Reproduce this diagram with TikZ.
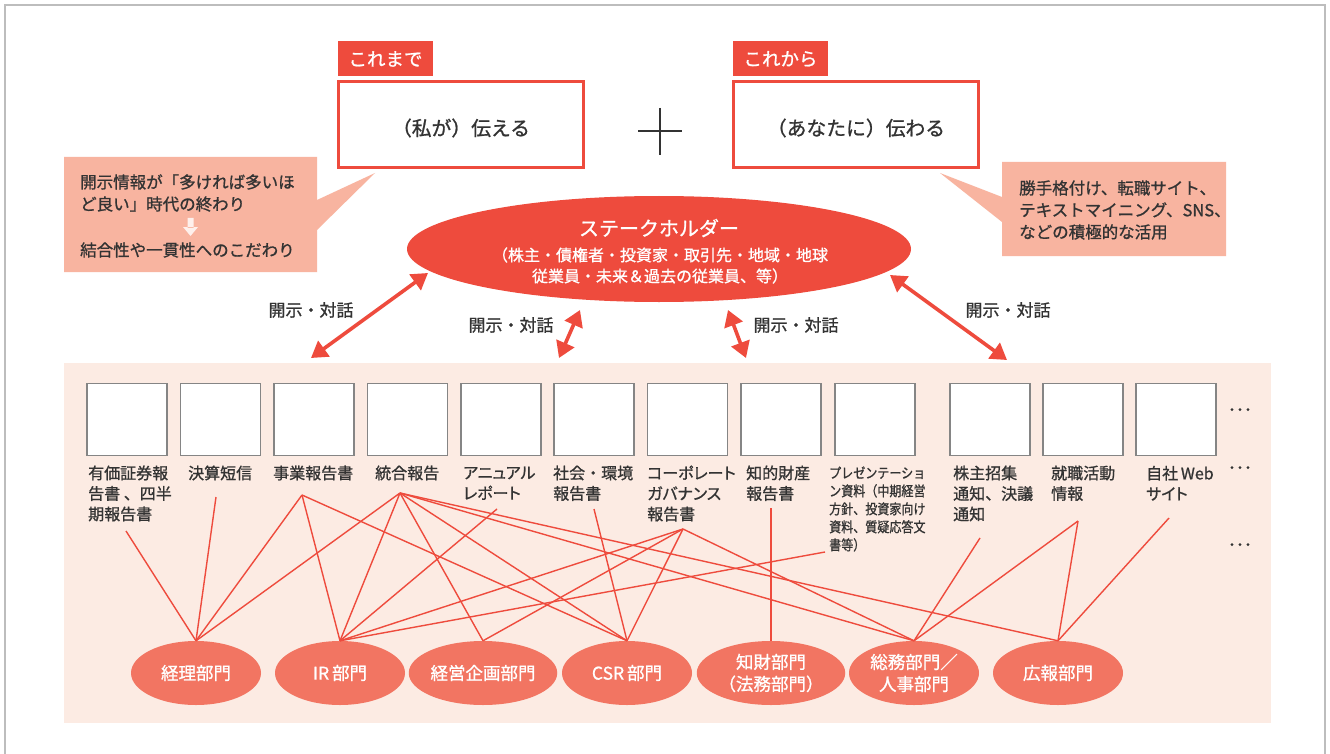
\documentclass[tikz,border=0pt]{standalone}
\usepackage{fontspec}
\setmainfont{Noto Sans CJK JP}[FakeBold=1]
\newfontfamily\condensed{Noto Sans CJK JP}[FakeStretch=0.86,FakeBold=1]
\newfontfamily\prop{Noto Sans CJK JP}[RawFeature=+palt,FakeBold=1]
\usetikzlibrary{arrows.meta,shapes.geometric}
\definecolor{cred}{HTML}{EE4B3D}
\definecolor{ccall}{HTML}{F8B4A0}
\definecolor{cdept}{HTML}{F27562}
\definecolor{cpanel}{HTML}{FCEBE3}
\definecolor{cbox}{HTML}{858585}
\definecolor{ctext}{HTML}{333333}
\definecolor{cframe}{HTML}{BDBDBD}
\begin{document}
\begin{tikzpicture}[x=1pt,y=-1pt,
  tag/.style={fill=cred, text=white, minimum width=95pt, minimum height=35pt, inner sep=0pt, font=\fontsize{18.5}{20}\selectfont},
  bigbox/.style={draw=cred, line width=2.5pt, fill=white, minimum width=245pt, minimum height=86pt, inner sep=0pt},
  boxtext/.style={text=ctext, inner sep=0pt, font=\fontsize{19.8}{24}\selectfont},
  calltext/.style={text=ctext, inner sep=0pt, align=left, font=\fontsize{16.5}{22}\selectfont},
  shtext/.style={text=white, inner sep=0pt, align=center},
  talk/.style={text=ctext, inner sep=0pt, font=\fontsize{17}{20}\selectfont},
  dblarrow/.style={draw=cred, line width=3.6pt, >={Triangle[length=16pt,width=19pt]}, <->},
  doc/.style={draw=cbox, line width=1.1pt, fill=white, minimum width=80pt, minimum height=72pt, inner sep=0pt},
  lbl/.style={text=ctext, inner sep=0pt, align=left, anchor=west, font=\fontsize{16}{20.5}\selectfont},
  dots/.style={text=ctext, inner sep=0pt, font=\fontsize{16}{20}\selectfont},
  dept/.style={ellipse, fill=cdept, text=white, minimum width=130pt, minimum height=64pt, inner sep=0pt, align=center, font=\fontsize{17.5}{22}\selectfont},
  conn/.style={draw=cred, line width=1.4pt}
]
\useasboundingbox (0,0) rectangle (1330,754);
\fill[white] (0,0) rectangle (1330,754);
% frame
\draw[cframe, line width=1.5pt] (5,754) -- (5,5) -- (1325,5) -- (1325,754);

% top boxes
\node[tag] (t1) at (385.5,59) {これまで};
\node[bigbox] (b1) at (461,124.5) {};
\node[boxtext] (b1t) at (461,128) {（私が）伝える};
\node[tag] (t2) at (780.5,59) {これから};
\node[bigbox] (b2) at (856,124.5) {};
\node[boxtext] (b2t) at (856,128) {（あなたに）伝わる};

% plus sign
\draw[ctext, line width=1.4pt] (638,131) -- (682,131);
\draw[ctext, line width=1.4pt] (660,108) -- (660,155);

% left callout
\fill[ccall] (64,157) -- (317,157) -- (317,200) -- (375,173) -- (317,230) -- (317,272) -- (64,272) -- cycle;
\node[calltext, anchor=west] (c1) at (80,193) {開示情報が「多ければ多いほ\\ど良い」時代の終わり};
\fill[white!80!ccall] (187.5,218) rectangle (193.5,228) (183,227) -- (198,227) -- (190.5,236) -- cycle;
\node[calltext, anchor=west] (c2) at (80,250) {結合性や一貫性へのこだわり};

% right callout
\fill[ccall] (1002,162) -- (1226,162) -- (1226,256) -- (1002,256) -- (1002,222) -- (940,173) -- (1002,197) -- cycle;
\node[calltext, anchor=west] (c3) at (1019,210) {勝手格付け、転職サイト、\\テキストマイニング、SNS、\\などの積極的な活用};

% stakeholder ellipse
\node[ellipse, fill=cred, minimum width=504pt, minimum height=106pt, inner sep=0pt] (sh) at (659,249) {};
\node[shtext, font=\fontsize{20}{24}\selectfont] (sht) at (659,228) {ステークホルダー};
\node[shtext, font=\fontsize{16}{21}\selectfont] (shs) at (660,265.5) {（株主・債権者・投資家・取引先・地域・地球\\従業員・未来＆過去の従業員、等）};

% panel
\fill[cpanel] (64,363) rectangle (1271,723);

% arrows
\coordinate (a1b) at (311,358); \coordinate (a1t) at (428,273);
\coordinate (a2b) at (559,358); \coordinate (a2t) at (580,310);
\coordinate (a3b) at (746,358); \coordinate (a3t) at (728,310);
\coordinate (a4b) at (1007,360); \coordinate (a4t) at (890,275);
\draw[dblarrow] (a1b) -- (a1t);
\draw[dblarrow] (a2b) -- (a2t);
\draw[dblarrow] (a3b) -- (a3t);
\draw[dblarrow] (a4b) -- (a4t);
\node[talk] (k1) at (311,310) {開示・対話};
\node[talk] (k2) at (511,325) {開示・対話};
\node[talk] (k3) at (796,325) {開示・対話};
\node[talk] (k4) at (1008,310) {開示・対話};

% document boxes
\foreach \i/\x in {1/127,2/220.5,3/314,4/407.5,5/501,6/594,7/687.5,8/781,9/875,10/990,11/1083,12/1176}
  \node[doc] (p\i) at (\x,419.5) {};

% labels
\node[lbl] (l1) at (88,493.5) {有価証券報\\告書 、四半\\期報告書};
\node[lbl] (l2) at (188,473) {決算短信};
\node[lbl] (l3) at (273,473) {事業報告書};
\node[lbl] (l4) at (375,473) {統合報告};
\node[lbl, font=\prop\fontsize{16}{20.5}\selectfont] (l5) at (463,483.25) {アニュアル\\レポート};
\node[lbl] (l6) at (553,483.25) {社会・環境\\報告書};
\node[lbl, font=\prop\fontsize{16}{20.5}\selectfont] (l7) at (647,493.5) {コーポレート\\ガバナンス\\報告書};
\node[lbl] (l8) at (746,483.25) {知的財産\\報告書};
\node[lbl, font=\condensed\fontsize{14}{18}\selectfont] (l9) at (829,509) {プレゼンテーショ\\ン資料（中期経営\\方針、投資家向け\\資料、質疑応答文\\書等）};
\node[lbl] (l10) at (953,493.5) {株主招集\\通知、決議\\通知};
\node[lbl] (l11) at (1051,483.25) {就職活動\\情報};
\node[lbl, font=\prop\fontsize{16}{20.5}\selectfont] (l12) at (1146,483.25) {自社\,Web\\サイト};

% dots
\node[dots] (e1) at (1240,412) {･･･};
\node[dots] (e2) at (1240,470) {･･･};
\node[dots] (e3) at (1240,547) {･･･};

% connector start points
\coordinate (s1) at (126,531);
\coordinate (s2) at (216,497);
\coordinate (s3) at (302,495);
\coordinate (s4) at (400,493);
\coordinate (s5) at (497,509);
\coordinate (s6) at (594,509);
\coordinate (s7) at (683,529);
\coordinate (s8) at (771,508);
\coordinate (s9) at (825,552);
\coordinate (s10) at (980,538);
\coordinate (s11) at (1078,521);
\coordinate (s12) at (1169,518);

% departments
\node[dept] (d1) at (196,673) {経理部門};
\node[dept] (d2) at (340,673) {IR\,部門};
\node[dept] (d3) at (483,673) {経営企画部門};
\node[dept] (d4) at (627,673) {CSR\,部門};
\node[dept] (d5) at (771,673) {知財部門\\（法務部門）};
\node[dept] (d6) at (914,673) {総務部門／\\人事部門};
\node[dept] (d7) at (1058,673) {広報部門};

% connectors
\foreach \s/\d in {s1/d1,s2/d1,s3/d1,s3/d2,s3/d4,s4/d1,s4/d2,s4/d3,s4/d4,s4/d6,s4/d7,s5/d2,s6/d4,s7/d2,s7/d3,s7/d4,s7/d6,s8/d5,s9/d2,s10/d6,s11/d6,s11/d7,s12/d7}
  \draw[conn] (\s) -- (\d.north);
\end{tikzpicture}
\end{document}
